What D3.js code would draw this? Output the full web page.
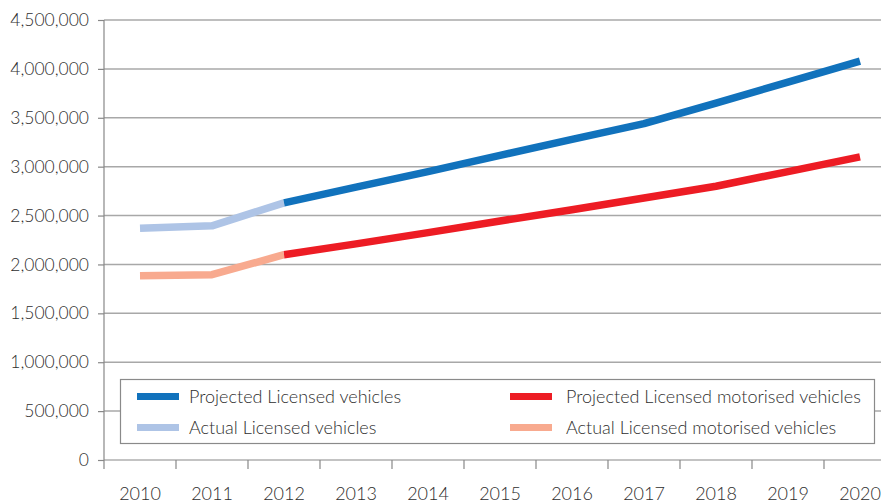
<!DOCTYPE html>
<html>
<head>
<meta charset="utf-8">
<script src="https://cdn.jsdelivr.net/npm/d3@7"></script>
<style>
  html, body { margin: 0; padding: 0; background: #fff; }
  svg { display: block; }
  text { font-family: Lato, "Open Sans", sans-serif; fill: #2e2e2e; font-weight: 300; }
</style>
</head>
<body>
<svg id="chart" width="881" height="504"></svg>
<script>
const years = ["2010","2011","2012","2013","2014","2015","2016","2017","2018","2019","2020"];
const yTicks = [0, 500000, 1000000, 1500000, 2000000, 2500000, 3000000, 3500000, 4000000, 4500000];

const actualLicensedYears = ["2010","2011","2012"];
const actualLicensed = [2370000, 2395000, 2630000];
const projectedLicensedYears = ["2012","2013","2014","2015","2016","2017","2018","2019","2020"];
const projectedLicensed = [2630000, 2790000, 2950000, 3115000, 3280000, 3440000, 3650000, 3865000, 4080000];

const actualMotorisedYears = ["2010","2011","2012"];
const actualMotorised = [1885000, 1895000, 2100000];
const projectedMotorisedYears = ["2012","2013","2014","2015","2016","2017","2018","2019","2020"];
const projectedMotorised = [2100000, 2210000, 2325000, 2445000, 2560000, 2680000, 2800000, 2950000, 3100000];

const legendItems = [
  {label: "Projected Licensed vehicles", color: "#1172BC"},
  {label: "Projected Licensed motorised vehicles", color: "#ED1C24"},
  {label: "Actual Licensed vehicles", color: "#AEC4E6"},
  {label: "Actual Licensed motorised vehicles", color: "#F8AA8F"}
];

(function () {
const svg = d3.select("#chart");
const W = 881;
const mLeft = 104, mTop = 20, mBottom = 460;
const step = 72;

const x = d3.scaleBand().domain(years).range([mLeft, mLeft + step * years.length]).padding(0);
const y = d3.scaleLinear().domain([0, 4500000]).range([mBottom, mTop]);
const cx = d => x(d) + x.bandwidth() / 2;

// gridlines
svg.append("g").selectAll("line").data(yTicks.filter(d => d > 0)).join("line")
  .attr("x1", mLeft).attr("x2", W)
  .attr("y1", d => y(d)).attr("y2", d => y(d))
  .attr("stroke", "#a8a8a8").attr("stroke-width", 1.5);

// y axis
const yAxis = d3.axisLeft(y).tickValues(yTicks).tickSize(6).tickPadding(9)
  .tickFormat(d3.format(","));
const gy = svg.append("g").attr("transform", `translate(${mLeft},0)`).call(yAxis);
gy.select(".domain").remove();
gy.selectAll(".tick line").attr("stroke", "#888").attr("stroke-width", 1.2);
gy.selectAll(".tick text").style("font-size", "17.5px").style("font-family", "Lato, sans-serif")
  .style("font-weight", 300).attr("fill", "#2e2e2e");
svg.append("line").attr("x1", mLeft).attr("x2", mLeft).attr("y1", mTop).attr("y2", mBottom + 9)
  .attr("stroke", "#888").attr("stroke-width", 1.2);

// x axis
const gx = svg.append("g").attr("transform", `translate(0,${mBottom})`)
  .call(d3.axisBottom(x).tickSize(0));
gx.select(".domain").remove();
gx.selectAll(".tick text").attr("y", 40).attr("dy", 0)
  .style("font-size", "18px").style("font-family", "Lato, sans-serif")
  .style("font-weight", 300).attr("fill", "#2e2e2e");
svg.append("line").attr("x1", mLeft).attr("x2", W).attr("y1", mBottom).attr("y2", mBottom)
  .attr("stroke", "#888").attr("stroke-width", 1.2);
svg.append("g").selectAll("line").data(years.slice(1)).join("line")
  .attr("x1", d => x(d)).attr("x2", d => x(d))
  .attr("y1", mBottom).attr("y2", mBottom + 9)
  .attr("stroke", "#888").attr("stroke-width", 1.2);

// lines
const line = d3.line().x(d => cx(d[0])).y(d => y(d[1]));
function drawSeries(ys, vals, color) {
  svg.append("path").datum(ys.map((yr, i) => [yr, vals[i]]))
    .attr("d", line).attr("fill", "none")
    .attr("stroke", color).attr("stroke-width", 7.5)
    .attr("stroke-linejoin", "round").attr("stroke-linecap", "butt");
}
drawSeries(actualLicensedYears, actualLicensed, legendItems[2].color);
drawSeries(actualMotorisedYears, actualMotorised, legendItems[3].color);
drawSeries(projectedLicensedYears, projectedLicensed, legendItems[0].color);
drawSeries(projectedMotorisedYears, projectedMotorised, legendItems[1].color);

// legend
const lg = svg.append("g");
lg.append("rect").attr("x", 120.5).attr("y", 379.5).attr("width", 754).attr("height", 64)
  .attr("fill", "#fff").attr("stroke", "#8a8a8a").attr("stroke-width", 1.2);
const colX = [137, 510];
const textX = [189, 566];
const rowY = [396.5, 427.5];
legendItems.forEach((it, i) => {
  const c = i % 2, r = Math.floor(i / 2);
  lg.append("rect").attr("x", colX[c]).attr("y", rowY[r] - 3.5).attr("width", 42).attr("height", 7)
    .attr("fill", it.color);
  lg.append("text").attr("x", textX[c]).attr("y", rowY[r]).attr("dy", "0.35em")
    .style("font-size", "18px").style("font-weight", 300).text(it.label);
});
})();
</script>
</body>
</html>
